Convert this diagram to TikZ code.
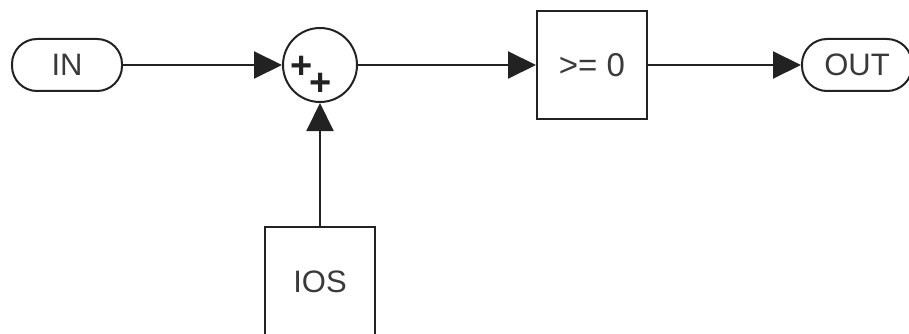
\documentclass[tikz,border=0pt]{standalone}
\usepackage{fontspec}
\setmainfont{Liberation Sans}
\usetikzlibrary{arrows.meta}
\definecolor{ink}{HTML}{222222}
\definecolor{txt}{HTML}{3A3A3A}
\begin{document}
\begin{tikzpicture}[x=1pt,y=-1pt,
  line width=2pt,
  lbl/.style={font=\fontsize{31}{31}\selectfont, text=txt},
  plus/.style={font=\bfseries\fontsize{38}{38}\selectfont, text=ink, inner sep=0pt},
  pill/.style={draw=ink, rounded corners=25pt, minimum width=110pt, minimum height=52pt, inner sep=0pt, lbl},
  blockbox/.style={draw=ink, minimum width=110pt, minimum height=107pt, inner sep=0pt, lbl},
  sumnode/.style={draw=ink, circle, minimum size=74pt, inner sep=0pt},
  sig/.style={draw=ink, -{Triangle[length=28pt,width=27pt]}}
]
\useasboundingbox (0,0) rectangle (909,334);
\clip (0,0) rectangle (909,334);
\node[pill] (in) at (67,65) {IN};
\node[sumnode] (sum) at (320,65) {};
\node[plus] (p1) at (302,67) {+};
\node[plus] (p2) at (321,84) {+};
\node[blockbox, font=\fontsize{33}{33}\selectfont] (cmp) at (592,65) {>= 0};
\node[pill] (out) at (857,65) {OUT};
\node[draw=ink, minimum width=110pt, minimum height=130pt, inner sep=0pt] (ios) at (320,292) {};
\node[lbl] (iostxt) at (320,282) {IOS};
\draw[sig] (in.east) -- (sum.west);
\draw[sig] (sum.east) -- (cmp.west);
\draw[sig] (cmp.east) -- (out.west);
\draw[sig] (ios.north) -- (sum.south);
\end{tikzpicture}
\end{document}
